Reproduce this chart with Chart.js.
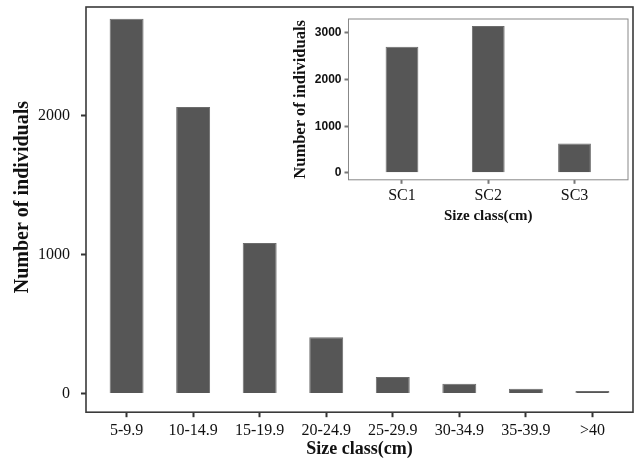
<!DOCTYPE html>
<html>
<head>
<meta charset="utf-8">
<script src="https://cdn.jsdelivr.net/npm/chart.js@4"></script>
<style>
    html, body { margin: 0; padding: 0; background: #fff; }
    #wrap { position: relative; width: 636px; height: 465px; }
    #main-chart { position: absolute; left: 0; top: 0; }
    #inset-chart { position: absolute; left: 288px; top: 0; }
</style>
</head>
<body>
<div id="wrap">
    <canvas id="main-chart" width="636" height="465"></canvas>
    <canvas id="inset-chart" width="344" height="230"></canvas>
</div>
<script>
// Main chart data
const sizeClasses = ['5-9.9', '10-14.9', '15-19.9', '20-24.9', '25-29.9', '30-34.9', '35-39.9', '>40'];
const individuals = [2700, 2065, 1085, 405, 118, 70, 34, 18];
const mainTicks = [0, 1000, 2000];

// Inset data
const insetClasses = ['SC1', 'SC2', 'SC3'];
const insetIndividuals = [2705, 3150, 628];
const insetTicks = [0, 1000, 2000, 3000];

const serif = '"Liberation Serif", "Times New Roman", serif';
const sans = '"Liberation Sans", Arial, sans-serif';

Chart.defaults.animation = false;
Chart.defaults.color = '#111';

// Draws the box round the plot area
function framePlugin(color, width) {
    return {
        id: 'frame',
        afterDatasetsDraw(chart) {
            const { ctx, chartArea } = chart;
            ctx.save();
            ctx.strokeStyle = color;
            ctx.lineWidth = width;
            ctx.strokeRect(chartArea.left, chartArea.top, chartArea.right - chartArea.left, chartArea.bottom - chartArea.top);
            ctx.restore();
        }
    };
}

// Labels never reach the plot edges, so no extra room is needed for them
function noLabelPadding(axis) {
    axis.paddingTop = 0;
    axis.paddingBottom = 0;
    axis.paddingLeft = 0;
    axis.paddingRight = 0;
}

function barChart(canvasId, labels, values, ticks, opts) {
    const ctx = document.getElementById(canvasId).getContext('2d');
    return new Chart(ctx, {
        type: 'bar',
        data: {
            datasets: [{
                data: values.map((v, i) => ({ x: i, y: v })),
                backgroundColor: '#565656',
                borderColor: '#6c6c6c',
                borderWidth: 1,
                categoryPercentage: 1,
                barPercentage: opts.barPercentage
            }]
        },
        options: {
            responsive: false,
            layout: { padding: opts.padding },
            plugins: {
                legend: { display: false },
                tooltip: { enabled: false }
            },
            scales: {
                x: {
                    type: 'linear',
                    offset: false,
                    min: -opts.pad,
                    max: labels.length - 1 + opts.pad,
                    afterBuildTicks: axis => { axis.ticks = labels.map((l, i) => ({ value: i })); },
                    afterFit: noLabelPadding,
                    ticks: {
                        callback: value => labels[value],
                        font: { family: serif, size: opts.xTickSize },
                        padding: opts.xTickPadding,
                        maxRotation: 0,
                        autoSkip: false
                    },
                    grid: {
                        offset: false,
                        drawOnChartArea: false,
                        tickLength: opts.tickLength,
                        tickWidth: 2,
                        tickColor: opts.tickColor
                    },
                    border: { display: false },
                    title: {
                        display: true,
                        text: 'Size class(cm)',
                        font: { family: serif, size: opts.titleSize, weight: 'bold' },
                        padding: opts.xTitlePadding
                    }
                },
                y: {
                    min: opts.yMin,
                    max: opts.yMax,
                    afterBuildTicks: axis => { axis.ticks = ticks.map(v => ({ value: v })); },
                    afterFit: noLabelPadding,
                    ticks: {
                        callback: value => String(value),
                        font: opts.yTickFont,
                        padding: opts.yTickPadding
                    },
                    grid: {
                        drawOnChartArea: false,
                        tickLength: opts.tickLength,
                        tickWidth: 2,
                        tickColor: opts.tickColor
                    },
                    border: { display: false },
                    title: {
                        display: true,
                        text: opts.yTitle,
                        font: { family: serif, size: opts.yTitleSize, weight: 'bold' },
                        padding: opts.yTitlePadding
                    }
                }
            }
        },
        plugins: [framePlugin(opts.frameColor, opts.frameWidth)]
    });
}

barChart('main-chart', sizeClasses, individuals, mainTicks, {
    barPercentage: 0.51,
    pad: 0.61,
    yMin: -135,
    yMax: 2785,
    padding: { left: 11, right: 3, top: 7, bottom: 5 },
    xTickSize: 16,
    xTickPadding: 4,
    xTitlePadding: { top: -6, bottom: 0 },
    yTickFont: { family: serif, size: 16 },
    yTickPadding: 11,
    // leading spaces lift the title a little above the axis middle, as in the original
    yTitle: '     Number of individuals',
    yTitleSize: 20,
    yTitlePadding: { top: 0, bottom: -8 },
    titleSize: 18,
    tickLength: 5,
    tickColor: '#333',
    frameColor: '#3a3a3a',
    frameWidth: 1.6
});

barChart('inset-chart', insetClasses, insetIndividuals, insetTicks, {
    barPercentage: 0.38,
    pad: 0.62,
    yMin: -150,
    yMax: 3300,
    padding: { left: 2, right: 4, top: 19, bottom: 5 },
    xTickSize: 16,
    xTickPadding: 2,
    xTitlePadding: 0,
    yTickFont: { family: sans, size: 12, weight: 'bold' },
    yTickPadding: 3,
    yTitle: 'Number of individuals',
    yTitleSize: 16.5,
    yTitlePadding: { top: 1, bottom: 1 },
    titleSize: 15,
    tickLength: 4,
    tickColor: '#777',
    frameColor: '#888',
    frameWidth: 1
});
</script>
</body>
</html>
